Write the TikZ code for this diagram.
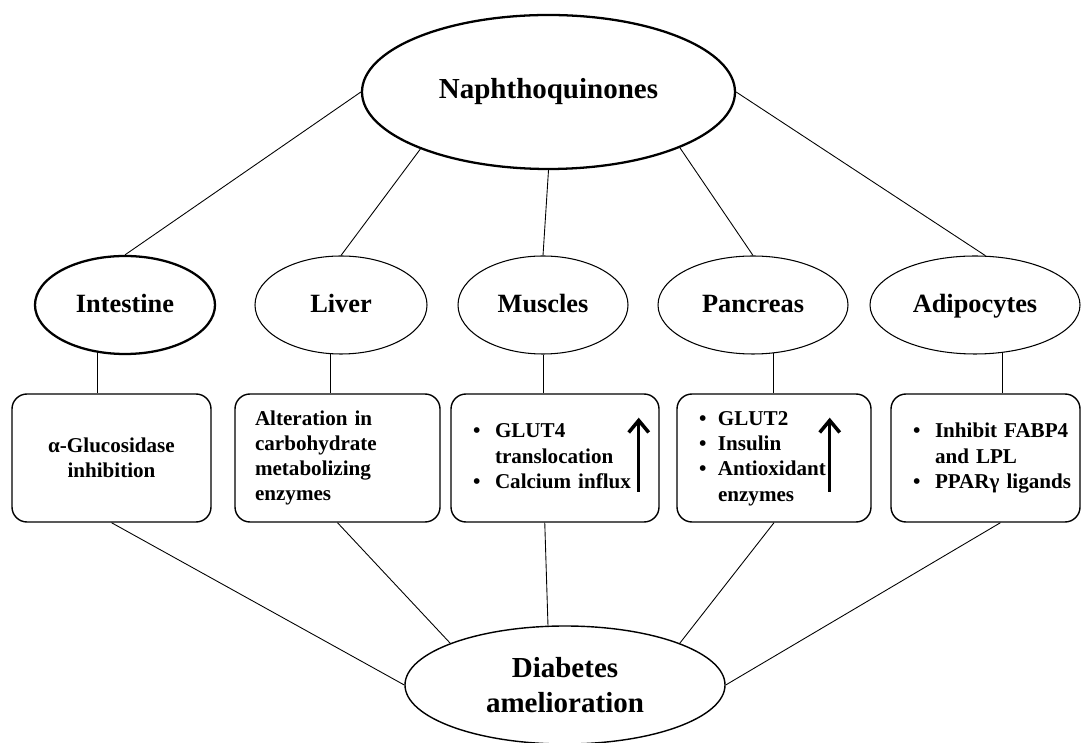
\documentclass[tikz,border=0pt]{standalone}
\usepackage{fontspec}
\setmainfont{Liberation Serif}
\usetikzlibrary{positioning}
\usetikzlibrary{shapes.geometric}
\usetikzlibrary{arrows.meta}

\begin{document}
\begin{tikzpicture}[
	organ/.style={draw,ellipse,inner sep=0pt,minimum height=1.96cm,text height=2.3ex,text depth=0.45ex,font=\fontsize{15}{18}\selectfont\bfseries},
	effect/.style={draw,rounded corners=0.3cm,inner xsep=0.44cm,inner ysep=0pt,minimum height=2.56cm,line width=0.8pt,align=left,font=\fontsize{12}{14.4}\selectfont\bfseries},
	link/.style={line width=0.5pt},
	uparrow/.style={-{Straight Barb[length=0.24cm,width=0.4cm]},line width=2pt}
]
	\useasboundingbox (0,0) rectangle (21.66,14.84);

	% top and bottom
	\node[draw,ellipse,line width=1.3pt,inner sep=0pt,minimum width=7.46cm,minimum height=3.08cm,font=\fontsize{16.5}{20}\selectfont\bfseries] (nap) at (10.97,13.0) {Naphthoquinones};
	\node[draw,ellipse,line width=0.8pt,inner sep=0pt,minimum width=6.4cm,minimum height=2.36cm,align=center,font=\fontsize{16.5}{20}\selectfont\bfseries] (dia) at (11.3,1.14) {Diabetes\\amelioration};

	% organs
	\foreach \n/\x/\w/\lw/\t in {int/2.5/3.6/1.3/Intestine, liv/6.82/3.44/0.6/Liver, mus/10.86/3.4/0.6/Muscles, pan/15.06/3.8/0.6/Pancreas, adi/19.5/4.2/0.6/Adipocytes}
		\node[organ,minimum width=\w cm,line width=\lw pt] (\n) at (\x,8.74) {\t};

	% effects
	\node[effect,text width=3.1cm,align=center] (intbox) at (2.23,5.68) {α-Glucosidase\\inhibition};
	\node[effect,text width=3.3cm,inner xsep=0.4cm] (livbox) at (6.75,5.68) {Alteration in\\carbohydrate\\metabolizing\\enzymes};
	\node[effect,text width=3.28cm] (musbox) at (11.1,5.68) {\begin{tabular}{@{}p{0.44cm}@{}l@{}}
		\textbullet & GLUT4\\ & translocation\\ \textbullet & Calcium influx\end{tabular}};
	\node[effect,text width=3.0cm] (panbox) at (15.48,5.68) {\begin{tabular}{@{}p{0.38cm}@{}l@{}}
		\textbullet & GLUT2\\ \textbullet & Insulin\\ \textbullet & Antioxidant\\ & enzymes\end{tabular}};
	\node[effect,text width=2.9cm] (adibox) at (19.71,5.68) {\begin{tabular}{@{}p{0.44cm}@{}l@{}}
		\textbullet & Inhibit FABP4\\ & and LPL\\ \textbullet & PPARγ ligands\end{tabular}};

	% up arrows
	\coordinate (musup0) at ([xshift=-0.42cm,yshift=0.62cm]musbox.south east);
	\coordinate (musup1) at ([xshift=-0.42cm,yshift=2.1cm]musbox.south east);
	\coordinate (panup0) at ([xshift=-0.84cm,yshift=0.62cm]panbox.south east);
	\coordinate (panup1) at ([xshift=-0.84cm,yshift=2.1cm]panbox.south east);
	\draw[uparrow] (musup0) -- (musup1);
	\draw[uparrow] (panup0) -- (panup1);

	% connectors naphthoquinones -> organs
	\draw[link] (nap.west) -- (int.north);
	\draw[link] (nap.204) -- (liv.north);
	\draw[link] (nap.south) -- (mus.north);
	\draw[link] (nap.337) -- (pan.north);
	\draw[link] (nap.east) -- (adi.78);

	% connectors organs -> effects
	\draw[link] (int.240) -- (int.240 |- intbox.north);
	\draw[link] (liv.258) -- (liv.258 |- livbox.north);
	\draw[link] (mus.south) -- (mus.south |- musbox.north);
	\draw[link] (pan.293) -- (pan.293 |- panbox.north);
	\draw[link] (adi.300) -- (adi.300 |- adibox.north);

	% connectors effects -> diabetes
	\draw[link] (intbox.south) -- (dia.west);
	\draw[link] (livbox.south) -- (dia.160);
	\draw[link] (musbox.261) -- (dia.106);
	\draw[link] (panbox.south) -- (dia.20);
	\draw[link] (adibox.283) -- (dia.east);
\end{tikzpicture}
\end{document}
